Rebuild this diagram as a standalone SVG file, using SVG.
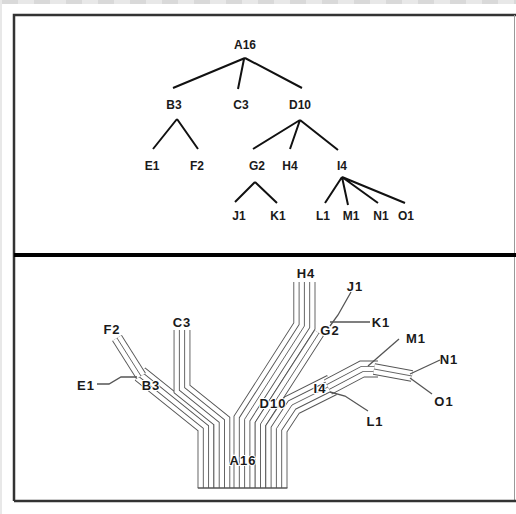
<svg xmlns="http://www.w3.org/2000/svg" xmlns:xlink="http://www.w3.org/1999/xlink" width="516" height="514" viewBox="0 0 516 514">
<style>
.lbl{font-family:"Liberation Sans",Arial,sans-serif;font-weight:bold;font-size:12px;fill:#1a1a1a;text-anchor:middle}
.lb2{font-family:"Liberation Sans",Arial,sans-serif;font-weight:bold;font-size:13px;fill:#1a1a1a;text-anchor:middle;letter-spacing:1px}
.halo{paint-order:stroke;stroke:#fff;stroke-width:2px}
.edge{stroke:#111;stroke-width:2;fill:none}
.wire{fill:none;stroke-linejoin:miter;stroke-linecap:butt}
.d4{stroke:#555;stroke-width:22.1}
.w4{stroke:#fff;stroke-width:20.3}
.d3{stroke:#555;stroke-width:16.8}
.w3{stroke:#fff;stroke-width:15}
.d2{stroke:#555;stroke-width:11.5}
.w2{stroke:#fff;stroke-width:9.7}
.d1{stroke:#555;stroke-width:6.2}
.w1{stroke:#fff;stroke-width:4.4}
.c0{stroke:#555;stroke-width:0.9}
.thin{fill:none;stroke:#555;stroke-width:1.3}
</style>
<defs>
<pattern id="stripe" x="2" y="0" width="32" height="4" patternUnits="userSpaceOnUse">
<rect x="0" y="0" width="16" height="4" fill="#d9d9d9"/>
<rect x="16" y="0" width="16" height="4" fill="#e8e8e8"/>
</pattern>
<path id="pb3" d="M205.95,488 V427 L140,374"/>
<path id="pc3" d="M221.85,488 V421 L182,389 V330"/>
<path id="pf2" d="M141,376 L117,338"/>
<path id="ph4" d="M244.6,488 V419.3 L304.4,326 V282"/>
<path id="pg2" d="M260.5,488 V424 L319,333"/>
<path id="pi4" d="M276.4,488 V428.7 L292,405 L332,385"/>
<path id="pmno" d="M328,387 L362,369 L378,369"/>
<path id="pno" d="M374,369 L412,376"/>
</defs>
<rect width="516" height="514" fill="#fff"/>
<rect x="0" y="0" width="516" height="4" fill="url(#stripe)"/>
<rect x="0" y="4" width="2" height="510" fill="#e8e8e8"/>
<g id="frame" fill="none">
<path d="M14,501 V15 H516" stroke="#333" stroke-width="2.5"/>
<path d="M514.5,15 V501" stroke="#999" stroke-width="1"/>
<path d="M14,501 H516" stroke="#333" stroke-width="2.5"/>
<path d="M14,255 H516" stroke="#000" stroke-width="4"/>
</g>
<g id="connectors">
<path class="edge" d="M245,58 L173,88 M244,59 L238,89 M245,58 L302,88 M177,119 L153,149 M177,119 L198,149 M300,120 L253,149 M300,120 L290,149 M300,120 L338,150 M255,182 L235,202 M255,182 L277,203 M342,177 L325,203 M342,177 L348,205 M342,177 L378,203 M342,177 L405,203"/>
</g>
<g id="wires" class="wire">
<g id="w-b3"><use xlink:href="#pb3" class="d3"/><use xlink:href="#pb3" class="w3"/><use xlink:href="#pb3" class="d1"/><use xlink:href="#pb3" class="w1"/></g>
<g id="w-c3"><use xlink:href="#pc3" class="d3"/><use xlink:href="#pc3" class="w3"/><use xlink:href="#pc3" class="d1"/><use xlink:href="#pc3" class="w1"/></g>
<g id="w-f2"><use xlink:href="#pf2" class="d2"/><use xlink:href="#pf2" class="w2"/><use xlink:href="#pf2" class="c0"/></g>
<path id="w-e1" class="thin" d="M137,377 L121,377 L109,384 L97,384"/>
<g id="w-h4"><use xlink:href="#ph4" class="d4"/><use xlink:href="#ph4" class="w4"/><use xlink:href="#ph4" class="d2"/><use xlink:href="#ph4" class="w2"/><use xlink:href="#ph4" class="c0"/></g>
<g id="w-g2"><use xlink:href="#pg2" class="d2"/><use xlink:href="#pg2" class="w2"/><use xlink:href="#pg2" class="c0"/></g>
<g id="w-i4"><use xlink:href="#pi4" class="d4"/><use xlink:href="#pi4" class="w4"/><use xlink:href="#pi4" class="d2"/><use xlink:href="#pi4" class="w2"/><use xlink:href="#pi4" class="c0"/></g>
<g id="w-mno"><use xlink:href="#pmno" class="d3"/><use xlink:href="#pmno" class="w3"/><use xlink:href="#pmno" class="d1"/><use xlink:href="#pmno" class="w1"/></g>
<g id="w-no"><use xlink:href="#pno" class="d2"/><use xlink:href="#pno" class="w2"/><use xlink:href="#pno" class="c0"/></g>
<path id="w-j1" class="thin" d="M330,326 L338,315 L351,292"/>
<path id="w-k1" class="thin" d="M330,322 L370,322"/>
<path id="w-l1" class="thin" d="M330,392 L345,396 L368,411"/>
<path id="w-m1" class="thin" d="M368,366 L399,339"/>
<path id="w-n1" class="thin" d="M410,374 L440,360"/>
<path id="w-o1" class="thin" d="M410,378 L432,394"/>
<path id="w-base" class="thin" d="M197.8,488 H287.4"/>
</g>
<g id="tree-nodes">
<g id="t-A16"><text class="lbl" x="245" y="49">A16</text></g>
<g id="t-B3"><text class="lbl" x="174" y="109">B3</text></g>
<g id="t-C3"><text class="lbl" x="241" y="109">C3</text></g>
<g id="t-D10"><text class="lbl" x="300" y="109">D10</text></g>
<g id="t-E1"><text class="lbl" x="152" y="170">E1</text></g>
<g id="t-F2"><text class="lbl" x="197" y="170">F2</text></g>
<g id="t-G2"><text class="lbl" x="257" y="170">G2</text></g>
<g id="t-H4"><text class="lbl" x="290" y="170">H4</text></g>
<g id="t-I4"><text class="lbl" x="342" y="170">I4</text></g>
<g id="t-J1"><text class="lbl" x="239" y="220">J1</text></g>
<g id="t-K1"><text class="lbl" x="278" y="220">K1</text></g>
<g id="t-L1"><text class="lbl" x="323" y="220">L1</text></g>
<g id="t-M1"><text class="lbl" x="351" y="220">M1</text></g>
<g id="t-N1"><text class="lbl" x="381" y="220">N1</text></g>
<g id="t-O1"><text class="lbl" x="406" y="220">O1</text></g>
</g>
<g id="bundle-nodes">
<g id="b-F2"><text class="lb2" x="112" y="334">F2</text></g>
<g id="b-E1"><text class="lb2" x="86" y="390">E1</text></g>
<g id="b-B3"><text class="lb2 halo" x="151" y="390">B3</text></g>
<g id="b-C3"><text class="lb2" x="182" y="327">C3</text></g>
<g id="b-H4"><text class="lb2" x="306" y="278">H4</text></g>
<g id="b-J1"><text class="lb2" x="355" y="291">J1</text></g>
<g id="b-G2"><text class="lb2 halo" x="330" y="335">G2</text></g>
<g id="b-K1"><text class="lb2" x="381" y="327">K1</text></g>
<g id="b-M1"><text class="lb2" x="416" y="343">M1</text></g>
<g id="b-N1"><text class="lb2" x="449" y="364">N1</text></g>
<g id="b-I4"><text class="lb2 halo" x="320" y="393">I4</text></g>
<g id="b-D10"><text class="lb2 halo" x="273" y="408">D10</text></g>
<g id="b-O1"><text class="lb2" x="444" y="406">O1</text></g>
<g id="b-L1"><text class="lb2" x="375" y="426">L1</text></g>
<g id="b-A16"><text class="lb2 halo" x="243" y="465">A16</text></g>
</g>
</svg>
